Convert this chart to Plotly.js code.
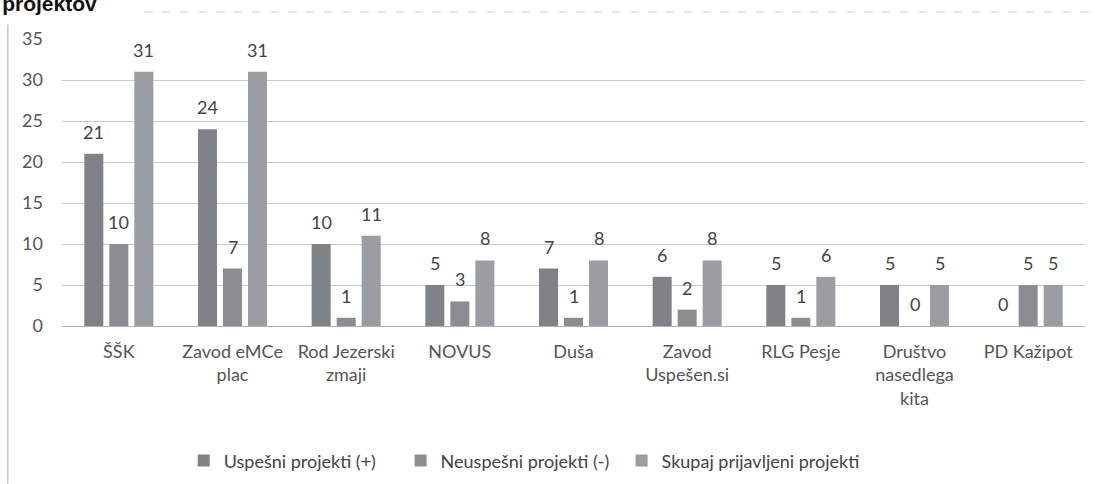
<!DOCTYPE html>
<html><head><meta charset="utf-8">
<script src="https://cdn.plot.ly/plotly-3.0.1.min.js"></script>
<style>html,body{margin:0;padding:0;background:#fff;}#c{width:1095px;height:484px;}</style>
</head><body><div id="c"></div>
<script>
const categories = ["ŠŠK", "Zavod eMCe<br>plac", "Rod Jezerski<br>zmaji", "NOVUS", "Duša", "Zavod<br>Uspešen.si", "RLG Pesje", "Društvo<br>nasedlega<br>kita", "PD Kažipot"];
const uspesni = [21, 24, 10, 5, 7, 6, 5, 5, 0];
const neuspesni = [10, 7, 1, 3, 1, 2, 1, 0, 5];
const skupaj = [31, 31, 11, 8, 8, 8, 6, 5, 5];
const seriesNames = ["Uspešni projekti (+)", "Neuspešni projekti (-)", "Skupaj prijavljeni projekti"];
const colors = ["#7f8388", "#8a8e93", "#9a9da1"];
const font = "Lato, 'Open Sans', sans-serif";
const allSeries = [uspesni, neuspesni, skupaj];
const legendIds = ["legend", "legend2", "legend3"];

const traces = allSeries.map((vals, i) => ({
  type: "bar", x: categories, y: vals, name: seriesNames[i],
  marker: {color: colors[i]}, legend: legendIds[i]
}));

// data labels placed in data coordinates, shifted to each bar of the group
const pitch = 25; // px between bar centres within a group
const annotations = [];
allSeries.forEach((vals, i) => {
  vals.forEach((v, j) => {
    annotations.push({
      x: categories[j], y: v, xref: "x", yref: "y", text: String(v),
      showarrow: false, xanchor: "center", yanchor: "bottom",
      xshift: (i - 1) * pitch, yshift: 9,
      font: {family: font, size: 18, color: "#444"}
    });
  });
});

const legendStyle = (x) => ({orientation: "h", x: x, xanchor: "left", y: -0.47, yanchor: "middle",
  font: {family: font, size: 18, color: "#444"}, itemwidth: 30, bgcolor: "rgba(0,0,0,0)"});

const layout = {
  width: 1095, height: 484,
  margin: {l: 62, r: 10, t: 39, b: 158, autoexpand: false},
  paper_bgcolor: "#fff", plot_bgcolor: "#fff",
  barmode: "group", bargap: 0.34, bargroupgap: 0.24,
  title: {text: "<b>projektov</b>", x: 0.002, xanchor: "left", y: 0.992, yanchor: "middle",
          font: {family: "Liberation Sans, Arial, sans-serif", size: 21, color: "#111"}},
  xaxis: {tickfont: {family: font, size: 18, color: "#555"}, showline: false, ticks: "",
          ticklabelstandoff: 13, automargin: false},
  yaxis: {range: [0, 35], dtick: 5, showgrid: true, gridcolor: "#c6cbd1", gridwidth: 1,
          zeroline: true, zerolinecolor: "#aeb3b8", tickfont: {family: font, size: 18, color: "#555"},
          ticks: "", ticklabelstandoff: 18, automargin: false},
  showlegend: true,
  legend: legendStyle(0.119),
  legend2: legendStyle(0.331),
  legend3: legendStyle(0.547),
  annotations: annotations,
  shapes: [
    {type: "line", xref: "paper", yref: "paper", x0: -0.053, x1: -0.053, y0: -0.55, y1: 1.05, line: {color: "#c8c8c8", width: 1.5}},
    {type: "line", xref: "paper", yref: "paper", x0: 0.08, x1: 1.01, y0: 1.094, y1: 1.094, line: {color: "#cfcfcf", width: 1, dash: "dash"}}
  ]
};
Plotly.newPlot("c", traces, layout, {displayModeBar: false, staticPlot: true});
</script></body></html>
